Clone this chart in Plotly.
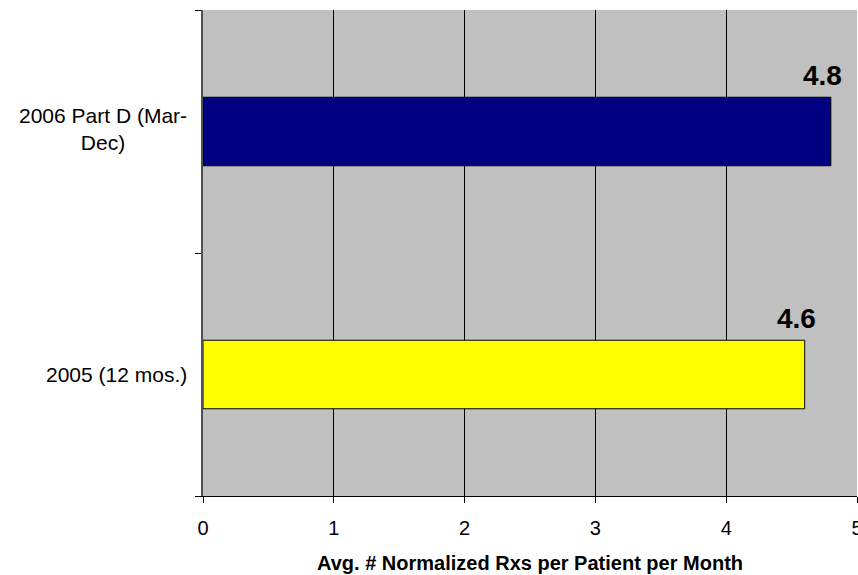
import plotly.graph_objects as go

# Chart data
categories = ["2005 (12 mos.)", "2006 Part D (Mar-Dec)"]
category_labels = ["2005 (12 mos.)", "2006 Part D (Mar-<br>Dec)"]
values = [4.6, 4.8]
bar_colors = ["#FFFF00", "#000080"]
x_ticks = [0, 1, 2, 3, 4, 5]
x_title = "Avg. # Normalized Rxs per Patient per Month"

FONT = "Arial, Liberation Sans, sans-serif"

fig = go.Figure()
fig.add_trace(go.Bar(
    y=categories,
    x=values,
    orientation="h",
    marker=dict(color=bar_colors, line=dict(color="black", width=1)),
    width=0.282,
    hoverinfo="x+y",
))

# Value labels above the bar ends
for cat, v in zip(categories, values):
    fig.add_annotation(
        x=v, y=cat, xref="x", yref="y",
        text=f"<b>{v}</b>", showarrow=False,
        font=dict(family=FONT, size=28, color="black"),
        xanchor="center", yanchor="middle",
        xshift=-8, yshift=56,
    )

# Category labels, centered text blocks to the left of the axis
for cat, lab in zip(categories, category_labels):
    fig.add_annotation(
        x=0, y=cat, xref="paper", yref="y",
        text=lab, showarrow=False, align="center",
        font=dict(family=FONT, size=21, color="black"),
        xanchor="right", yanchor="middle", xshift=-14,
        yshift=3 if "<br>" in lab else 0,
    )

# X axis title
fig.add_annotation(
    x=0.5, y=0, xref="paper", yref="paper",
    text=f"<b>{x_title}</b>", showarrow=False,
    font=dict(family=FONT, size=20, color="black"),
    xanchor="center", yanchor="middle", yshift=-67,
)

fig.update_layout(
    width=858, height=575,
    margin=dict(l=203, r=1, t=10, b=79, autoexpand=False),
    paper_bgcolor="white",
    plot_bgcolor="#C0C0C0",
    showlegend=False,
    xaxis=dict(
        range=[0, 5], tickvals=x_ticks, ticktext=[str(t) for t in x_ticks],
        showgrid=True, gridcolor="black", gridwidth=1,
        zeroline=False,
        showline=True, linecolor="black", linewidth=1,
        ticks="outside", ticklen=6, tickcolor="black",
        ticklabelstandoff=8, ticklabeloverflow="allow",
        tickfont=dict(family=FONT, size=20, color="black"),
        automargin=False,
        fixedrange=True,
    ),
    yaxis=dict(
        type="category", categoryorder="array", categoryarray=categories,
        range=[-0.5, 1.5],
        tickson="boundaries", ticks="outside", ticklen=6, tickcolor="black",
        showticklabels=False, showgrid=False,
        showline=True, linecolor="#505050", linewidth=2,
        automargin=False,
        fixedrange=True,
    ),
)

fig.write_html("out.html")
